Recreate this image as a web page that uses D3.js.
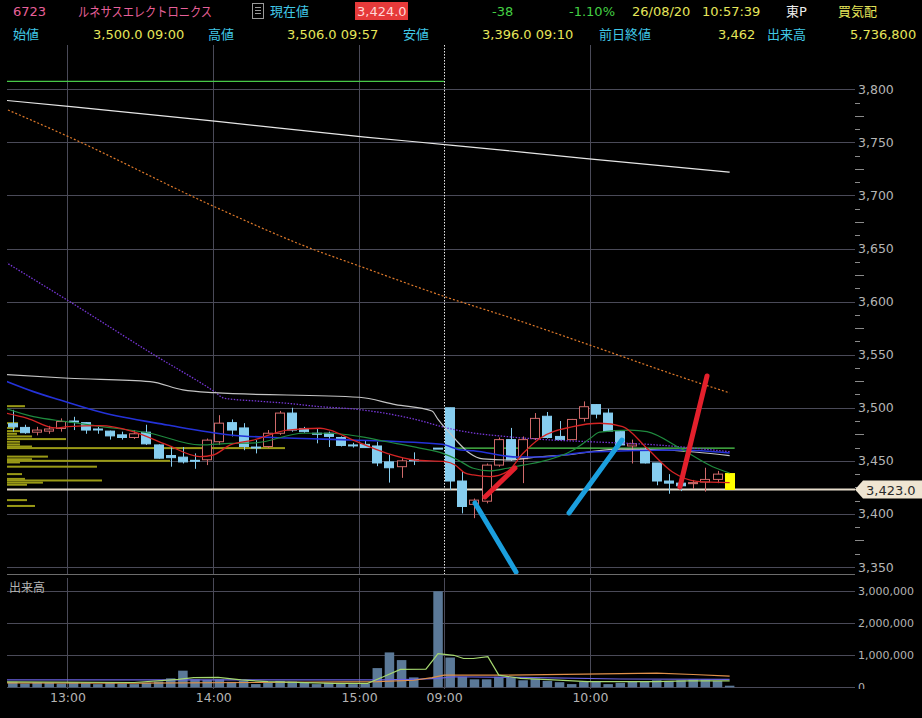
<!DOCTYPE html>
<html>
<head>
<meta charset="utf-8">
<script src="https://cdn.jsdelivr.net/npm/d3@7"></script>
<style>
  html, body { margin: 0; padding: 0; background: #000; overflow: hidden; }
  svg { display: block; font-family: "DejaVu Sans", "Noto Sans CJK JP", sans-serif; }
</style>
</head>
<body>
<svg id="chart"></svg>
<script>
// 5 minute bars, index 0..59 (bar 34 had no trade)
const candleOpen = [
  3485, 3481.5, 3477, 3478, 3480.5, 3487.5, 3486, 3480, 3478, 3474.5,
  3472, 3477, 3465, 3455, 3453.5, 3450.5, 3451, 3468, 3486, 3481,
  3463, 3463.5, 3476, 3495, 3480.5, 3476, 3476, 3472, 3465, 3465.5,
  3464, 3449, 3444.5, 3451, null, 3462, 3500, 3431, 3409, 3412,
  3446, 3470, 3452, 3471, 3492, 3473, 3470, 3490, 3503, 3495,
  3477.5, 3464, 3461, 3448, 3431, 3429, 3428.5, 3430, 3432.5, 3438
];
const candleHigh = [
  3498, 3484, 3482, 3483, 3490, 3491.5, 3486.5, 3482, 3478.5, 3477.5,
  3479, 3484, 3465.5, 3464, 3463, 3457, 3471, 3493, 3489, 3485.5,
  3469.5, 3479, 3497, 3500, 3482, 3480.5, 3477.5, 3473, 3467, 3469,
  3468, 3455.5, 3452.5, 3458, null, 3462, 3500, 3440, 3414.5, 3447.5,
  3472, 3481, 3473, 3495, 3496, 3487.5, 3489.5, 3506, 3503.5, 3499,
  3478, 3470, 3463, 3448, 3437.5, 3432, 3432, 3443.5, 3440.5, 3438
];
const candleLow = [
  3477.5, 3475.5, 3474, 3475.5, 3477.5, 3479, 3475.5, 3475.5, 3470, 3470,
  3470.5, 3465, 3452, 3444.5, 3447.5, 3442.5, 3446, 3465, 3473, 3460,
  3457, 3462, 3474.5, 3477.5, 3476.5, 3466.5, 3463, 3463.5, 3462.5, 3462.5,
  3445, 3429.5, 3434, 3446, null, 3461.5, 3422.5, 3400.5, 3396, 3410,
  3444.5, 3450, 3429, 3469.5, 3471, 3469.5, 3469.5, 3487, 3490, 3477.5,
  3464.5, 3447.5, 3447.5, 3427, 3419, 3421.5, 3423.5, 3421, 3429, 3423
];
const candleClose = [
  3482, 3476.5, 3479, 3480, 3487, 3487, 3479, 3479.5, 3473.5, 3472,
  3475.5, 3466, 3452.5, 3453, 3449, 3450, 3469.5, 3485.5, 3479, 3463.5,
  3462.5, 3476, 3495, 3479, 3477.5, 3475.5, 3473, 3464.5, 3464.5, 3462.5,
  3448, 3443.5, 3450, 3450.5, null, 3461.5, 3431, 3407, 3413, 3446,
  3470, 3451, 3470, 3490, 3472, 3470, 3489, 3501, 3494, 3478,
  3465, 3466, 3448, 3431, 3429, 3426.5, 3429.5, 3432.5, 3437.5, 3423
];
const volumes = [
  170000, 120000, 150000, 140000, 120000, 150000, 130000, 100000, 140000, 120000,
  100000, 140000, 180000, 280000, 520000, 250000, 230000, 250000, 170000, 200000,
  100000, 150000, 200000, 180000, 140000, 100000, 140000, 130000, 100000, 120000,
  600000, 1090000, 850000, 310000, null, 3000000, 930000, 330000, 250000, 250000,
  330000, 300000, 220000, 270000, 200000, 160000, 100000, 170000, 170000, 100000,
  140000, 170000, 170000, 220000, 200000, 220000, 250000, 250000, 200000, 50000
];

// moving averages: [bar index, value]
const maLong = [[-1, 3790], [5, 3783.5], [17, 3769.5], [29, 3755], [36, 3747.5], [47, 3735], [59, 3722]];
const maOrange = [[-1, 3783.5], [4.6, 3755.3], [16.6, 3689.4], [24.5, 3650.2], [28.5, 3633.6], [35.4, 3605.3],
  [41, 3584.6], [47.5, 3559], [55, 3529], [59, 3514]];
const maPurple = [[-1, 3640], [4.6, 3600.6], [11.5, 3550.7], [16.6, 3515.2], [17.4, 3509], [20, 3506.4],
  [22.6, 3504.2], [25.3, 3501], [28, 3498.9], [30.8, 3494.5], [33.5, 3488], [35.3, 3482.2], [37.2, 3477.5],
  [40.7, 3472.8], [43.4, 3470.3], [47.5, 3468], [52.2, 3465.6], [59, 3458.6]];
const maGray = [[-1, 3531.5], [4.6, 3527.8], [11.3, 3524.6], [14, 3516.8], [16.6, 3514.2], [28.5, 3509.9],
  [31.5, 3503], [34.5, 3497], [35, 3489], [35.5, 3482], [36, 3476], [36.6, 3468], [37.6, 3457.1],
  [38.7, 3451.8], [40.7, 3450.8], [43.4, 3453.9], [46.1, 3456.2], [47.5, 3458.5], [50, 3461], [54, 3460], [59, 3455]];
const maBlue = [[-1, 3527], [1.7, 3515.2], [3.9, 3507.3], [7.2, 3496], [12.7, 3483.8], [17.9, 3474.4],
  [22.6, 3471.5], [28, 3469.6], [35.3, 3465.6], [36.9, 3460.2], [37.9, 3459.5], [41.5, 3453.6],
  [43.4, 3453.6], [47.5, 3458.3], [55, 3460.2], [59, 3457.4]];
const maGreen = [[-1, 3501], [1.7, 3491.6], [4.4, 3487], [7.2, 3482.5], [11.3, 3476], [15.4, 3465],
  [17.9, 3466.5], [20, 3467], [23.9, 3476], [26.1, 3476], [28.6, 3472.8], [30.8, 3468], [33.5, 3462],
  [35.4, 3457], [36.6, 3451], [37.9, 3443], [39.3, 3440.5], [40.7, 3443], [42, 3446], [43.4, 3449],
  [46.1, 3460], [47.5, 3471], [48.3, 3477], [50.8, 3479], [52.2, 3477.5], [54.9, 3462], [57.6, 3444.5], [59, 3438.5]];
const maRed = [[-1, 3496], [1.2, 3490.1], [3.5, 3481], [4.5, 3482.2], [7.2, 3483.1], [9.9, 3477.5],
  [12.7, 3465], [15.4, 3454], [16.5, 3455.5], [17.9, 3465], [19.8, 3469.6], [22.6, 3479], [25.3, 3480.7],
  [26.1, 3479], [28, 3469.6], [30.8, 3457.1], [33.1, 3450.8], [35.6, 3449.2], [36.4, 3446.1], [37.2, 3438.6],
  [37.9, 3436.7], [39.3, 3435.1], [40.7, 3439.8], [42, 3457.1], [43.4, 3471.3], [46.1, 3482.2],
  [48.3, 3485.4], [50.2, 3482.2], [52.2, 3461.8], [54.3, 3439.5], [56.3, 3430.7], [59, 3429.4]];

// volume averages
const volMaGreen = [[-1, 170000], [10, 150000], [13.6, 250000], [14.9, 300000], [16.9, 310000], [18.8, 230000],
  [21, 175000], [26.4, 125000], [29.2, 125000], [30.5, 330000], [31.9, 560000], [34, 570000], [35, 1050000],
  [36.3, 1000000], [37.1, 900000], [37.9, 900000], [39.1, 960000], [40, 380000], [41.8, 280000],
  [44.5, 230000], [47.3, 175000], [52.8, 175000], [55.6, 200000], [59, 200000]];
const volMaOrange = [[-1, 140000], [10, 130000], [20, 150000], [30, 180000], [33, 220000], [34.5, 300000],
  [35.5, 380000], [40, 380000], [47, 410000], [53, 440000], [56, 400000], [59, 350000]];
const volMaPurple = [[-1, 230000], [30, 230000], [33, 250000], [35, 280000], [36.3, 330000], [41.8, 310000],
  [50, 260000], [59, 250000]];

// price-by-volume bars at the left edge
const profilePrices = [3501.5, 3485.5, 3481, 3478, 3475.5, 3473, 3470.5, 3468, 3465.5, 3463.5, 3462,
  3454, 3451.5, 3450, 3448.5, 3444.5, 3437.5, 3433, 3431.5, 3429.5, 3427.5, 3413, 3407.5];
const profileVolumes = [194000, 119000, 86000, 140000, 108000, 270000, 637000, 140000, 140000, 270000, 3000000,
  442000, 270000, 1759000, 140000, 971000, 162000, 194000, 1025000, 388000, 216000, 216000, 302000];

// reference levels
const prevClose = 3462;
const lastPrice = 3423;
const topLevel = 3807.5;

// hand drawn trend strokes: [bar index, price]
const blueStrokes = [[[38.04, 3410.3], [41.42, 3345.3]], [[45.78, 3400.9], [50.14, 3469.6]]];
const redStrokes = [[[38.86, 3416], [41.33, 3443.3]], [[54.91, 3425.4], [57.14, 3530]]];

// axes
const priceTickValues = [3350, 3400, 3450, 3500, 3550, 3600, 3650, 3700, 3750, 3800];
const volTickValues = [0, 1000000, 2000000, 3000000];
const timeTickLabels = ['13:00', '14:00', '15:00', '09:00', '10:00'];
const timeTickIndex = [4.5, 16.5, 28.5, 35.5, 47.5];

// header texts
const headerRow1 = ['6723', 'ルネサスエレクトロニクス', '現在値', '3,424.0', '-38', '-1.10%', '26/08/20', '10:57:39', '東P', '買気配'];
const headerRow2 = ['始値', '3,500.0 09:00', '高値', '3,506.0 09:57', '安値', '3,396.0 09:10', '前日終値', '3,462', '出来高', '5,736,800'];

const W = 922, H = 718;
const left = 7, right = 855;
const priceTop = 45, priceBottom = 574;
const volTop = 578, volBottom = 689;
const gridColor = '#4a4a58';
const axisText = '#b4b4b4';
const upColor = '#d06a6a';
const downColor = '#86cdef';

const svg = d3.select('#chart').attr('width', W).attr('height', H);
svg.append('rect').attr('width', W).attr('height', H).attr('fill', '#000');

const defs = svg.append('defs');
function clip(id, x0, y0, w, h) {
  defs.append('clipPath').attr('id', id).append('rect')
    .attr('x', x0).attr('y', y0).attr('width', w).attr('height', h);
}
clip('clipPrice', left, priceTop, right - left, priceBottom - priceTop);
clip('clipPriceAxis', 0, priceTop, W, priceBottom - 1 - priceTop);
clip('clipVol', left, volTop, right - left, volBottom - volTop);
clip('clipVolAxis', 0, volTop, W, volBottom - volTop);

const x = d3.scaleLinear().domain([0, 59]).range([12.8, 12.8 + 59 * 12.15]);
const y = d3.scaleLinear().domain([3350, 3800]).range([567, 89.3]);
const yv = d3.scaleLinear().domain([0, 3000000]).range([687.3, 591.3]);
const px = d3.scaleLinear().domain([0, 3000000]).range([left, 285]);

// ---------- price panel ----------
const gp = svg.append('g').attr('clip-path', 'url(#clipPrice)');

// horizontal grid
let gridP = gp.append('g').attr('transform', 'translate(' + right + ',0)')
  .call(d3.axisLeft(y).tickValues(priceTickValues).tickSize(right - left).tickFormat(''));
gridP.select('.domain').remove();
gridP.selectAll('line').attr('stroke', gridColor).attr('shape-rendering', 'crispEdges');

// vertical grid, session break drawn dotted
timeTickIndex.forEach((t, i) => {
  let isOpen = timeTickLabels[i] === '09:00';
  gp.append('line')
    .attr('x1', Math.round(x(t)) + 0.5).attr('x2', Math.round(x(t)) + 0.5)
    .attr('y1', priceTop).attr('y2', priceBottom)
    .attr('stroke', isOpen ? '#e8e8e8' : gridColor)
    .attr('stroke-dasharray', isOpen ? '1.5,1.5' : null);
});

// price by volume
gp.selectAll('rect.profile')
  .data(profilePrices)
  .enter()
  .append('rect')
  .classed('profile', true)
  .attr('x', left)
  .attr('y', (d) => y(d) - 1)
  .attr('width', (d, i) => px(profileVolumes[i]) - left)
  .attr('height', 2)
  .attr('fill', '#9a9a16');

// level lines
gp.append('line')
  .attr('x1', left).attr('x2', x(35.5))
  .attr('y1', y(topLevel)).attr('y2', y(topLevel))
  .attr('stroke', '#48c848').attr('stroke-width', 1.2);
gp.append('line')
  .attr('x1', x(35.5)).attr('x2', x(59) + 5)
  .attr('y1', y(prevClose)).attr('y2', y(prevClose))
  .attr('stroke', '#50d050').attr('stroke-width', 1.2);
gp.append('line')
  .attr('x1', left).attr('x2', right)
  .attr('y1', y(lastPrice)).attr('y2', y(lastPrice))
  .attr('stroke', '#e6dccb').attr('stroke-width', 2);

// candles
const bodyW = 10;
const bars = d3.range(candleOpen.length).filter((i) => candleOpen[i] !== null);
const lastIdx = candleOpen.length - 1;
const candleColor = (i) => (candleClose[i] > candleOpen[i] ? upColor : downColor);

gp.selectAll('line.wick')
  .data(bars)
  .enter()
  .append('line')
  .classed('wick', true)
  .attr('x1', (i) => Math.round(x(i)) + 0.5)
  .attr('x2', (i) => Math.round(x(i)) + 0.5)
  .attr('y1', (i) => y(candleHigh[i]))
  .attr('y2', (i) => y(candleLow[i]))
  .attr('stroke', (i) => (i === lastIdx ? '#ffff00' : candleColor(i)));

gp.selectAll('rect.body')
  .data(bars)
  .enter()
  .append('rect')
  .classed('body', true)
  .attr('x', (i) => Math.round(x(i)) - bodyW / 2 + 0.5)
  .attr('y', (i) => y(Math.max(candleOpen[i], candleClose[i])))
  .attr('width', bodyW - 1)
  .attr('height', (i) => Math.max(1, Math.abs(y(candleOpen[i]) - y(candleClose[i]))))
  .attr('fill', (i) => {
    if (i === lastIdx) return '#ffff00';
    return candleClose[i] > candleOpen[i] ? '#000' : downColor;
  })
  .attr('stroke', (i) => (i === lastIdx ? '#ffff00' : candleColor(i)))
  .attr('stroke-width', 1);

// moving averages
const priceLine = d3.line()
  .x((d) => x(d[0]))
  .y((d) => y(d[1]))
  .curve(d3.curveMonotoneX);

const maSpecs = [
  [maLong, '#e6e6e6', 1.2, null],
  [maOrange, '#e07a2a', 1.2, '2,2'],
  [maPurple, '#7636d6', 1.3, '1.5,1.5'],
  [maGray, '#c4c4c4', 1.2, null],
  [maBlue, '#2432d8', 1.6, null],
  [maGreen, '#1f8a3e', 1.2, null],
  [maRed, '#d42424', 1.3, null]
];
maSpecs.forEach((s) => {
  gp.append('path')
    .datum(s[0])
    .attr('d', priceLine)
    .attr('fill', 'none')
    .attr('stroke', s[1])
    .attr('stroke-width', s[2])
    .attr('stroke-dasharray', s[3]);
});

// trend strokes
const strokeLine = d3.line().x((d) => x(d[0])).y((d) => y(d[1]));
blueStrokes.forEach((s) => {
  gp.append('path').datum(s).attr('d', strokeLine)
    .attr('stroke', '#1b9fde').attr('stroke-width', 5).attr('stroke-linecap', 'round');
});
redStrokes.forEach((s) => {
  gp.append('path').datum(s).attr('d', strokeLine)
    .attr('stroke', '#e3202c').attr('stroke-width', 5).attr('stroke-linecap', 'round');
});

// panel separator
svg.append('line')
  .attr('x1', left).attr('x2', right)
  .attr('y1', priceBottom + 0.5).attr('y2', priceBottom + 0.5)
  .attr('stroke', '#6c6c6c');

// price axis labels + small ticks
let axP = svg.append('g')
  .attr('clip-path', 'url(#clipPriceAxis)')
  .attr('transform', 'translate(' + right + ',0)')
  .call(d3.axisRight(y).tickValues(priceTickValues).tickSize(0).tickPadding(3).tickFormat(d3.format(',')));
axP.select('.domain').remove();
axP.selectAll('text')
  .attr('fill', axisText)
  .style('font-size', '12.5px')
  .style('font-family', '"DejaVu Sans", sans-serif');

const minorTicks = d3.range(3350, 3800.1, 12.5).filter((v) => v % 50 !== 0);
axP.selectAll('line.minor')
  .data(minorTicks)
  .enter()
  .append('line')
  .classed('minor', true)
  .attr('x1', 0)
  .attr('x2', (d) => (d % 25 === 0 ? 9 : 5))
  .attr('y1', (d) => Math.round(y(d)) + 0.5)
  .attr('y2', (d) => Math.round(y(d)) + 0.5)
  .attr('stroke', '#8a8a8a');

// last price tag
const ly = y(lastPrice);
svg.append('path')
  .attr('d', 'M' + right + ',' + ly + 'L' + (right + 8) + ',' + (ly - 9) + 'L' + W + ',' + (ly - 9) +
    'L' + W + ',' + (ly + 9) + 'L' + (right + 8) + ',' + (ly + 9) + 'Z')
  .attr('fill', '#efe5d2');
svg.append('text')
  .attr('x', right + 11).attr('y', ly + 5)
  .attr('fill', '#2a2a2a')
  .style('font-size', '13px')
  .text(d3.format(',.1f')(lastPrice));

// ---------- volume panel ----------
const gv = svg.append('g').attr('clip-path', 'url(#clipVol)');

let gridV = gv.append('g').attr('transform', 'translate(' + right + ',0)')
  .call(d3.axisLeft(yv).tickValues(volTickValues).tickSize(right - left).tickFormat(''));
gridV.select('.domain').remove();
gridV.selectAll('line').attr('stroke', gridColor).attr('shape-rendering', 'crispEdges');

timeTickIndex.forEach((t) => {
  gv.append('line')
    .attr('x1', Math.round(x(t)) + 0.5).attr('x2', Math.round(x(t)) + 0.5)
    .attr('y1', volTop).attr('y2', volBottom)
    .attr('stroke', gridColor);
});

const volBars = d3.range(volumes.length).filter((i) => volumes[i] !== null);
gv.selectAll('rect.vol')
  .data(volBars)
  .enter()
  .append('rect')
  .classed('vol', true)
  .attr('x', (i) => x(i) - 4.75)
  .attr('y', (i) => yv(volumes[i]))
  .attr('width', 9.5)
  .attr('height', (i) => yv(0) - yv(volumes[i]))
  .attr('fill', '#5b7998');

const volLine = d3.line().x((d) => x(d[0])).y((d) => yv(d[1]));
[[volMaPurple, '#6a62e0'], [volMaOrange, '#e0904a'], [volMaGreen, '#a6d870']].forEach((s) => {
  gv.append('path')
    .datum(s[0])
    .attr('d', volLine)
    .attr('fill', 'none')
    .attr('stroke', s[1])
    .attr('stroke-width', 1.2);
});

svg.append('text')
  .attr('x', 9).attr('y', 592)
  .attr('fill', axisText)
  .style('font-size', '12px')
  .text('出来高');

let axV = svg.append('g')
  .attr('clip-path', 'url(#clipVolAxis)')
  .attr('transform', 'translate(' + right + ',0)')
  .call(d3.axisRight(yv).tickValues(volTickValues).tickSize(0).tickPadding(3).tickFormat(d3.format(',')));
axV.select('.domain').remove();
axV.selectAll('text')
  .attr('fill', axisText)
  .style('font-size', '11px')
  .style('font-family', '"DejaVu Sans", sans-serif');

// time axis
let axT = svg.append('g')
  .attr('transform', 'translate(0,' + volBottom + ')')
  .call(d3.axisBottom(x).tickValues(timeTickIndex).tickSize(0).tickPadding(4)
    .tickFormat((d, i) => timeTickLabels[i]));
axT.select('.domain').remove();
axT.selectAll('text')
  .attr('fill', axisText)
  .style('font-size', '12.5px')
  .style('font-family', '"DejaVu Sans", sans-serif');

// ---------- header ----------
const hdr = svg.append('g').style('font-size', '13px');
const pink = '#e8609a', cyan = '#40c8e6', yellow = '#e6e65a', green = '#44d044';

// red box behind the current price
hdr.append('rect').attr('x', 355).attr('y', 2).attr('width', 53).attr('height', 18).attr('fill', '#e63a3a');

const row1X = [13, 78, 270, 357, 492, 569, 632, 702, 786, 838];
const row1Color = [pink, pink, cyan, '#ffd6d6', green, green, yellow, yellow, '#ececec', yellow];
headerRow1.forEach((t, i) => {
  let tx = hdr.append('text').attr('x', row1X[i]).attr('y', 16).attr('fill', row1Color[i]).text(t);
  if (i === 1) tx.attr('textLength', 134).attr('lengthAdjust', 'spacingAndGlyphs');
});

const row2X = [13, 93, 208, 287, 403, 482, 599, 718, 767, 850];
headerRow2.forEach((t, i) => {
  hdr.append('text').attr('x', row2X[i]).attr('y', 39)
    .attr('fill', i % 2 === 0 ? cyan : yellow).text(t);
});

// little document icon next to 現在値
const icon = svg.append('g').attr('transform', 'translate(252,3)');
icon.append('rect').attr('x', 0.5).attr('y', 0.5).attr('width', 11).attr('height', 15)
  .attr('fill', 'none').attr('stroke', '#9a9a9a');
[4, 7, 10].forEach((yy) => {
  icon.append('line').attr('x1', 3).attr('x2', 9).attr('y1', yy + 0.5).attr('y2', yy + 0.5).attr('stroke', '#9a9a9a');
});
</script>
</body>
</html>
